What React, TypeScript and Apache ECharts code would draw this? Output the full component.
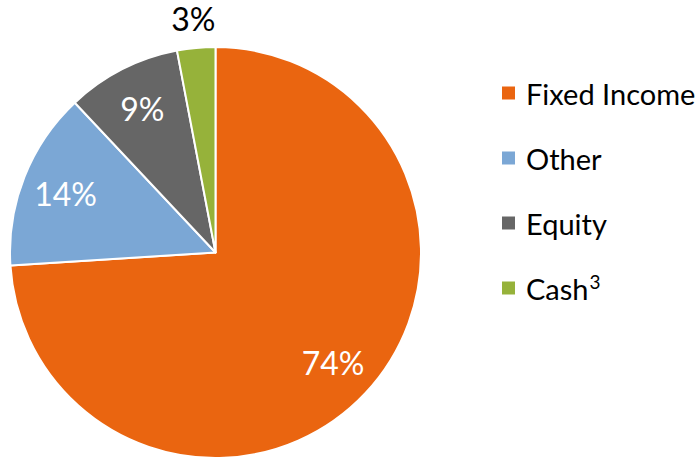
import React, { useEffect, useRef } from "react";
import * as echarts from "echarts";

const categories = ["Fixed Income", "Other", "Equity", "Cash³"];
const values = [74, 14, 9, 3];
const colors = ["#EA6510", "#7BA7D5", "#666666", "#96B23A"];
const insideLabelShown = [true, true, true, false];

export default function App() {
  const ref = useRef<HTMLDivElement>(null);
  useEffect(() => {
    document.body.style.margin = "0";
    const chart = echarts.init(ref.current!, null, { renderer: "svg" });
    const font = "Lato, 'Open Sans', sans-serif";
    const center = [215.5, 252.5];
    const R = 205.5;
    const data = categories.map((name, i) => ({
      name,
      value: values[i],
      itemStyle: { color: colors[i] },
    }));
    chart.setOption({
      animation: false,
      legend: {
        orient: "vertical",
        left: 500,
        top: 77,
        padding: 0,
        itemWidth: 15,
        itemHeight: 15,
        itemGap: 33,
        icon: "rect",
        selectedMode: false,
        data: categories,
        formatter: (name: string) =>
          name.endsWith("³") ? name.slice(0, -1) + "{sup|3}" : name,
        textStyle: {
          fontFamily: font,
          fontSize: 29,
          lineHeight: 32,
          color: "#000",
          padding: [0, 0, 0, 5],
          rich: {
            sup: {
              fontFamily: font,
              fontSize: 19,
              lineHeight: 19,
              verticalAlign: "top",
              color: "#000",
              padding: [0, 0, 0, 1],
            },
          },
        },
      },
      series: [
        {
          type: "pie",
          center,
          radius: [0, R],
          startAngle: 90,
          clockwise: true,
          silent: true,
          label: { show: false },
          labelLine: { show: false },
          itemStyle: { borderColor: "#fff", borderWidth: 2 },
          data,
        },
        {
          type: "pie",
          center,
          radius: [111, R],
          startAngle: 90,
          clockwise: true,
          silent: true,
          legendHoverLink: false,
          itemStyle: { color: "transparent" },
          label: {
            show: true,
            position: "inside",
            formatter: "{c}%",
            color: "#fff",
            fontFamily: font,
            fontSize: 32,
          },
          labelLine: { show: false },
          data: categories.map((name, i) => ({
            name: name + " ",
            value: values[i],
            label: { show: insideLabelShown[i] },
          })),
        },
        {
          type: "pie",
          center,
          radius: [218, 246],
          startAngle: 90,
          clockwise: true,
          silent: true,
          legendHoverLink: false,
          itemStyle: { color: "transparent" },
          label: {
            show: true,
            position: "inside",
            formatter: "{c}%",
            color: "#000",
            fontFamily: font,
            fontSize: 32,
          },
          labelLine: { show: false },
          data: categories.map((name, i) => ({
            name: name + "  ",
            value: values[i],
            label: { show: !insideLabelShown[i] },
          })),
        },
      ],
    });
    return () => chart.dispose();
  }, []);
  return <div ref={ref} style={{ width: 699, height: 459 }} />;
}
